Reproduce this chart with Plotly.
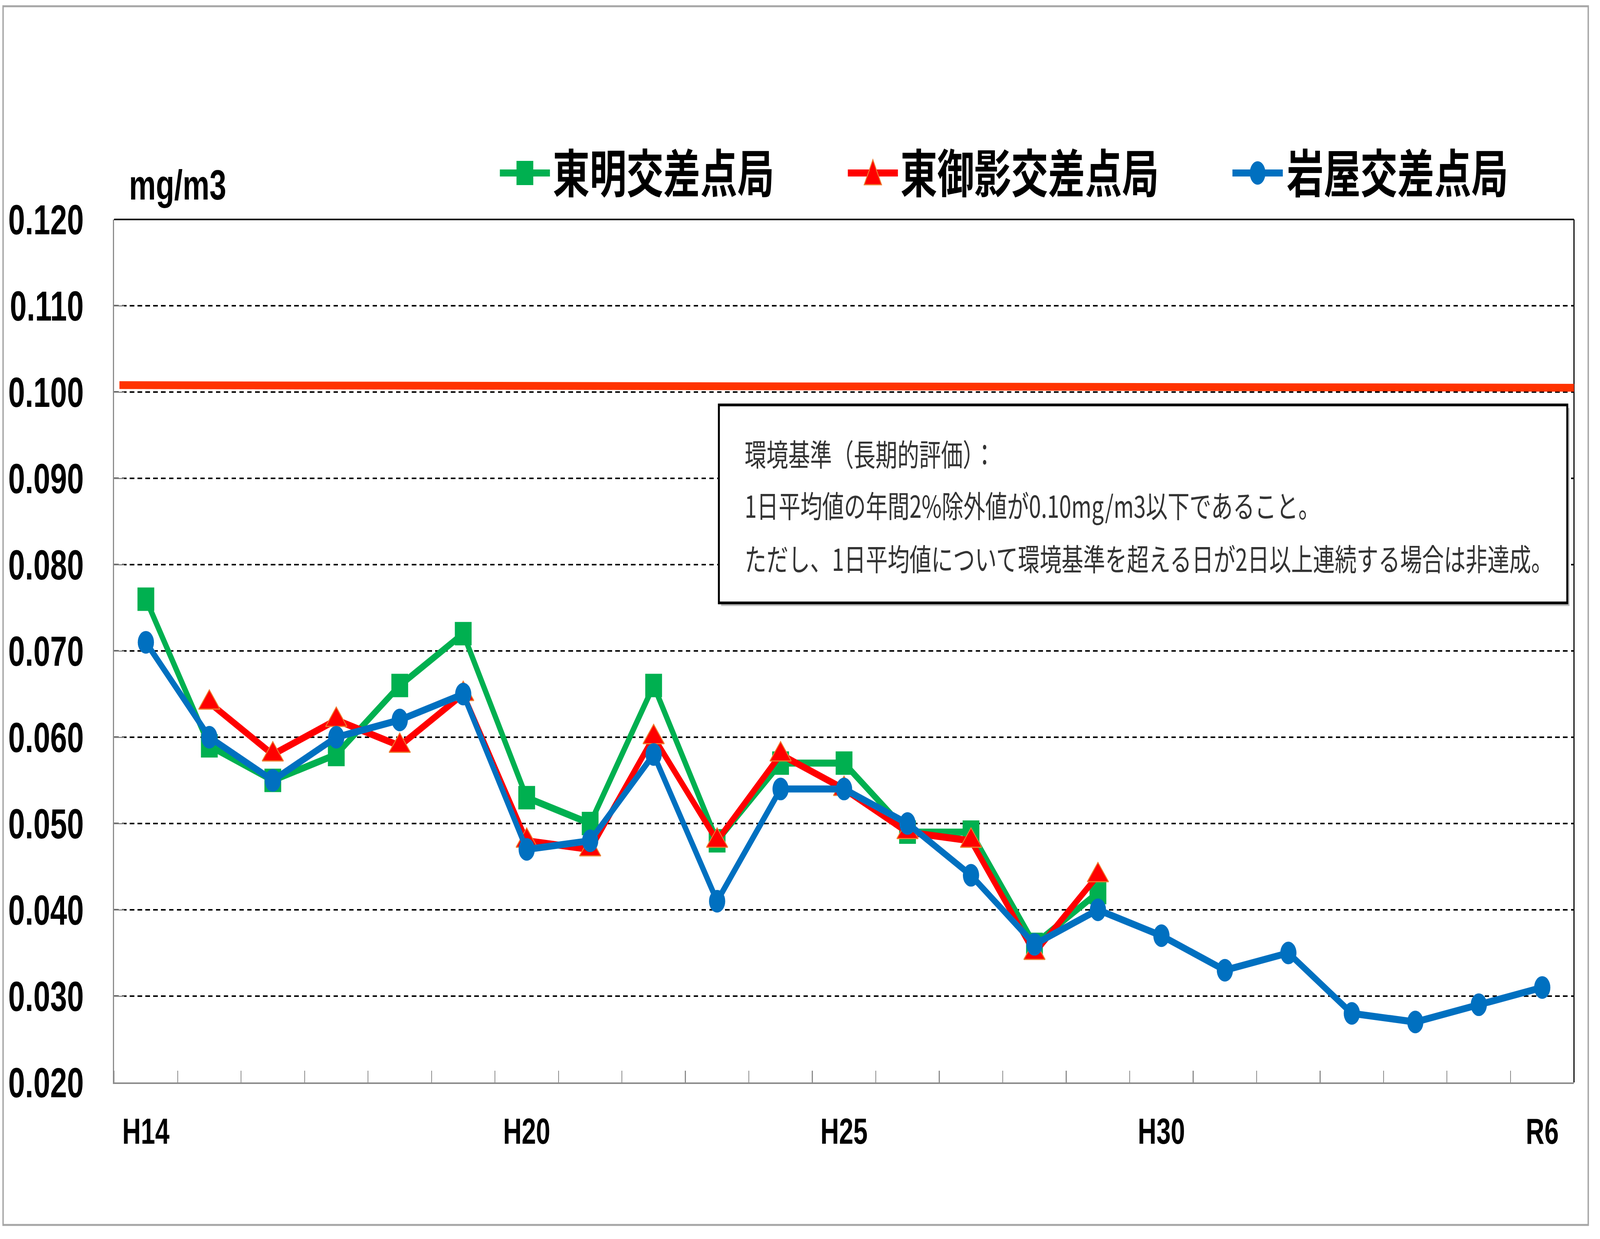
import plotly.graph_objects as go

# ---- data ----
years = ["H14", "H15", "H16", "H17", "H18", "H19", "H20", "H21", "H22", "H23",
         "H24", "H25", "H26", "H27", "H28", "H29", "H30", "R1", "R2", "R3",
         "R4", "R5", "R6"]
tick_years = ["H14", "H20", "H25", "H30", "R6"]

series_names = ["東明交差点局", "東御影交差点局", "岩屋交差点局"]

toumei = [0.076, 0.059, 0.055, 0.058, 0.066, 0.072, 0.053, 0.050, 0.066, 0.048,
          0.057, 0.057, 0.049, 0.049, 0.036, 0.042,
          None, None, None, None, None, None, None]
higashimikage = [None, 0.064, 0.058, 0.062, 0.059, 0.065, 0.048, 0.047, 0.060, 0.048,
                 0.058, 0.054, 0.049, 0.048, 0.035, 0.044,
                 None, None, None, None, None, None, None]
iwaya = [0.071, 0.060, 0.055, 0.060, 0.062, 0.065, 0.047, 0.048, 0.058, 0.041,
         0.054, 0.054, 0.050, 0.044, 0.036, 0.040, 0.037, 0.033, 0.035, 0.028,
         0.027, 0.029, 0.031]

standard_line = [0.1008, 0.1005]   # drawn environmental standard line (0.10 mg/m3)

note_lines = [
    "環境基準（長期的評価）：",
    "1日平均値の年間2%除外値が0.10mg/m3以下であること。",
    "ただし、1日平均値について環境基準を超える日が2日以上連続する場合は非達成。",
]
unit_label = "mg/m3"

# ---- styles ----
GREEN = "#00B050"
RED = "#FF0000"
BLUE = "#0070C0"
STD_COLOR = "#FF3300"
AXIS_GRAY = "#8C8C8C"
LATIN = "Liberation Sans, Arial, sans-serif"
CJK = "Noto Sans CJK JP, sans-serif"

x = list(range(len(years)))

fig = go.Figure()
fig.add_trace(go.Scatter(
    x=x, y=toumei, name=series_names[0], mode="lines+markers",
    line=dict(color=GREEN, width=18),
    marker=dict(symbol="square", size=60, color=GREEN),
    connectgaps=False, showlegend=False))
fig.add_trace(go.Scatter(
    x=x, y=higashimikage, name=series_names[1], mode="lines+markers",
    line=dict(color=RED, width=18),
    marker=dict(symbol="triangle-up", size=66, color=RED,
                line=dict(color="#ED7D31", width=3)),
    connectgaps=False, showlegend=False))
fig.add_trace(go.Scatter(
    x=x, y=iwaya, name=series_names[2], mode="lines+markers",
    line=dict(color=BLUE, width=18),
    marker=dict(symbol="circle", size=58, color=BLUE),
    connectgaps=False, showlegend=False))

W, H = 5720, 3173
ML, MR, MT, MB = 408, 93, 562, 401
PW = W - ML - MR
PH = H - MT - MB


def px(xf):
    return (xf - ML) / PW


def py(yf):
    return (H - MB - yf) / PH


shapes = []
# outer chart border
shapes.append(dict(type="rect", xref="paper", yref="paper",
                   x0=px(11), x1=px(5678), y0=py(3137), y1=py(16),
                   line=dict(color="#A6A6A6", width=5), layer="below"))
# plot area frame: top and right black
shapes.append(dict(type="line", xref="paper", yref="paper", x0=0, x1=1, y0=1, y1=1,
                   line=dict(color="black", width=4)))
shapes.append(dict(type="line", xref="paper", yref="paper", x0=1, x1=1, y0=0, y1=1,
                   line=dict(color="black", width=4)))
# environmental standard line
shapes.append(dict(type="line", xref="paper", yref="y", x0=px(427), x1=1,
                   y0=standard_line[0], y1=standard_line[1],
                   line=dict(color=STD_COLOR, width=20)))
# note box (with light shadow)
shapes.append(dict(type="rect", xref="paper", yref="paper",
                   x0=px(2578), x1=px(5611), y0=py(1552), y1=py(1045),
                   fillcolor="#BFBFBF", line=dict(width=0)))
shapes.append(dict(type="rect", xref="paper", yref="paper",
                   x0=px(2570), x1=px(5603), y0=py(1544), y1=py(1037),
                   fillcolor="white", line=dict(color="black", width=7)))

# custom legend keys
key_specs = [(1787, 1966, GREEN, "square"), (3031, 3210, RED, "triangle"),
             (4406, 4586, BLUE, "circle")]
KEY_Y = 443
for x0, x1, col, sym in key_specs:
    shapes.append(dict(type="line", xref="paper", yref="paper",
                       x0=px(x0), x1=px(x1), y0=py(KEY_Y), y1=py(KEY_Y),
                       line=dict(color=col, width=18)))
    cx = px((x0 + x1) / 2)
    cy = py(KEY_Y)
    if sym == "square":
        shapes.append(dict(type="rect", xref="paper", yref="paper",
                           xsizemode="pixel", ysizemode="pixel", xanchor=cx, yanchor=cy,
                           x0=-30, x1=30, y0=-31, y1=31,
                           fillcolor=col, line=dict(width=0)))
    elif sym == "circle":
        shapes.append(dict(type="circle", xref="paper", yref="paper",
                           xsizemode="pixel", ysizemode="pixel", xanchor=cx, yanchor=cy,
                           x0=-28, x1=28, y0=-30, y1=30,
                           fillcolor=col, line=dict(width=0)))
    else:
        shapes.append(dict(type="path", xref="paper", yref="paper",
                           xsizemode="pixel", ysizemode="pixel", xanchor=cx, yanchor=cy,
                           path="M-31,-30 L31,-30 L0,34 Z",
                           fillcolor=col, line=dict(color="#ED7D31", width=3)))

annotations = []
# legend texts
for name, xl in zip(series_names, [1974, 3217, 4598]):
    annotations.append(dict(text=name, xref="paper", yref="paper",
                            x=px(xl), y=py(436), xanchor="left", yanchor="middle",
                            showarrow=False,
                            font=dict(family=CJK, size=132, color="black", weight="bold")))
# unit label
annotations.append(dict(text=unit_label, xref="paper", yref="paper",
                        x=px(635), y=py(474), xanchor="center", yanchor="middle",
                        showarrow=False,
                        font=dict(family=LATIN, size=108, color="black", weight="bold")))
# note text
for line, yl in zip(note_lines, [1160, 1292, 1428]):
    annotations.append(dict(text=line, xref="paper", yref="paper",
                            x=px(2660), y=py(yl), xanchor="left", yanchor="middle",
                            showarrow=False,
                            font=dict(family=CJK, size=78, color="#333333")))

fig.update_layout(
    width=W, height=H,
    margin=dict(l=ML, r=MR, t=MT, b=MB, pad=0),
    paper_bgcolor="white", plot_bgcolor="white",
    showlegend=False,
    shapes=shapes, annotations=annotations,
    xaxis=dict(
        range=[-0.5, len(years) - 0.5],
        tickmode="array",
        tickvals=[years.index(t) for t in tick_years],
        ticktext=tick_years,
        ticks="",
        showline=True, linecolor=AXIS_GRAY, linewidth=4,
        showgrid=False, zeroline=False,
        minor=dict(ticks="inside", tick0=0.5, dtick=1, ticklen=30,
                   tickwidth=3, tickcolor=AXIS_GRAY, showgrid=False),
        tickfont=dict(family=LATIN, size=92, color="black", weight="bold"),
        ticklabelstandoff=43,
    ),
    yaxis=dict(
        range=[0.02, 0.12], tick0=0.02, dtick=0.01, tickformat=".3f",
        ticks="inside", ticklen=36, tickwidth=3, tickcolor=AXIS_GRAY,
        showline=True, linecolor=AXIS_GRAY, linewidth=4,
        showgrid=True, gridcolor="black", gridwidth=4, griddash="16px,12px",
        zeroline=False,
        tickfont=dict(family=LATIN, size=108, color="black", weight="bold"),
        ticklabelstandoff=83,
    ),
)

# The page is laid out at the chart's own 5720x3173 size; fit it to the
# browser viewport (which may be narrower) and remove the default body margin.
fit_js = """
var gd = document.getElementById('{plot_id}');
document.documentElement.style.margin = '0';
document.body.style.margin = '0';
document.documentElement.style.overflow = 'hidden';
document.body.style.overflow = 'hidden';
var sx = window.innerWidth / 5720, sy = window.innerHeight / 3173;
gd.style.transformOrigin = '0 0';
gd.style.transform = 'scale(' + sx + ',' + sy + ')';
"""

fig.write_html("out.html", config={"displayModeBar": False}, post_script=fit_js)
